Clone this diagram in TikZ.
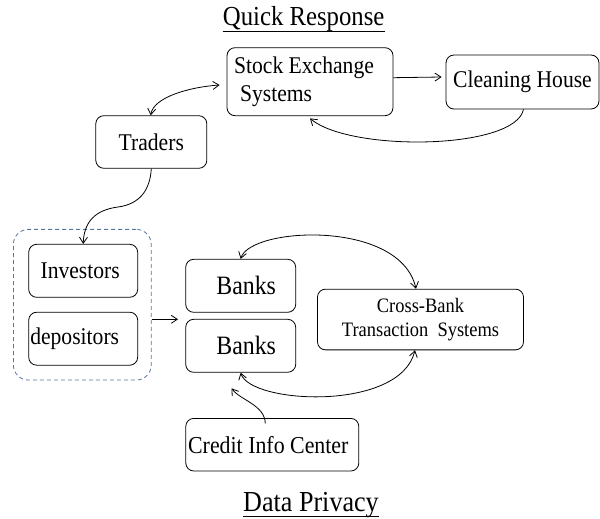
\documentclass[tikz,border=0pt]{standalone}
\usepackage{fontspec}
\setmainfont{Liberation Serif}[FakeStretch=0.9]
\usetikzlibrary{arrows.meta}
\definecolor{grpblue}{RGB}{88,118,160}
\begin{document}
\begin{tikzpicture}[x=1pt,y=-1pt,
  box/.style={draw=black, line width=0.8pt, rounded corners=8pt, inner sep=0pt, align=center, font=\fontsize{24}{26}\selectfont},
  grpbox/.style={draw=grpblue, line width=0.8pt, dash pattern=on 4pt off 3pt, rounded corners=15pt, inner sep=0pt},
  ttl/.style={inner sep=0pt, anchor=base, font=\fontsize{27.5}{30}\selectfont},
  conn/.style={line width=0.8pt, draw=black},
  onetip/.style={-{Straight Barb[length=6pt,width=8pt]}},
  twotips/.style={{Straight Barb[length=6pt,width=8pt]}-{Straight Barb[length=6pt,width=8pt]}},
]
\useasboundingbox (0,0) rectangle (600,519);

% titles
\node[ttl] (qr) at (303.7,26) {Quick Response};
\draw[line width=0.8pt] ([yshift=-5pt]qr.base west) -- ([yshift=-5pt]qr.base east);
\node[ttl, font=\fontsize{29}{31}\selectfont] (dp) at (311,511.7) {Data Privacy};
\draw[line width=0.8pt] ([yshift=-5pt]dp.base west) -- ([yshift=-5pt]dp.base east);

% boxes
\node[box, align=left, font=\fontsize{24}{28.3}\selectfont, minimum width=166pt, minimum height=68pt] (ses) at (310,81.7) {Stock Exchange\hspace*{12pt}\\\hspace*{6pt}Systems};
\node[box, minimum width=153pt, minimum height=54pt] (ch) at (522.5,82) {Cleaning House};
\node[box, minimum width=111pt, minimum height=52.6pt] (tr) at (151.3,142) {Traders};
\node[grpbox, minimum width=137.8pt, minimum height=150.7pt] (grp) at (82.3,304.7) {};
\node[box, minimum width=109pt, minimum height=53pt] (inv) at (83.2,270.8) {Investors\hspace*{6pt}};
\node[box, minimum width=109pt, minimum height=53pt] (dep) at (83.2,338.7) {depositors\hspace*{17pt}};
\node[box, font=\fontsize{26.5}{28}\selectfont, minimum width=110pt, minimum height=53pt] (b1) at (240.7,285.8) {\hspace*{11pt}Banks};
\node[box, font=\fontsize{26.5}{28}\selectfont, minimum width=110pt, minimum height=53pt] (b2) at (240.7,345.8) {\hspace*{11pt}Banks};
\node[box, font=\fontsize{20.5}{23.3}\selectfont, minimum width=206pt, minimum height=60.7pt] (cb) at (420.5,319.5) {Cross-Bank\\Transaction\ \ Systems};
\node[box, font=\fontsize{24.3}{26}\selectfont, minimum width=173pt, minimum height=52.6pt] (cic) at (272.3,444.7) {Credit Info Center\hspace*{8pt}};

% free ends
\coordinate (gb) at (178,319.3);
\coordinate (cictip) at (231.5,388.3);

% connectors
\draw[conn, onetip] ([yshift=4pt]ses.east) -- ([xshift=-4pt,yshift=5pt]ch.west);
\draw[conn, twotips] ([xshift=-0.6pt]tr.north) .. controls (153.4,97) and (190,87) .. ([xshift=-7pt,yshift=-3.3pt]ses.west);
\draw[conn, onetip] ([xshift=1pt]ch.south) .. controls (515,150) and (350,152) .. ([yshift=-2.3pt]ses.south);
\draw[conn, onetip] (tr.south) .. controls (150,190) and (140,204) .. (118,207) .. controls (95,210) and (84,222) .. (inv.north);
\draw[conn, onetip] (grp.east |- gb) -- (gb);
\draw[conn, twotips] (b1.north) .. controls (250,227) and (400,219) .. ([xshift=-4.5pt]cb.north);
\draw[conn, twotips] (b2.south) .. controls (250,404) and (400,412) .. ([xshift=-5.5pt]cb.south);
\draw[conn, onetip] ([xshift=-7pt,yshift=-5.5pt]cic.north) .. controls (265,405) and (240,400) .. (cictip);
\end{tikzpicture}
\end{document}
